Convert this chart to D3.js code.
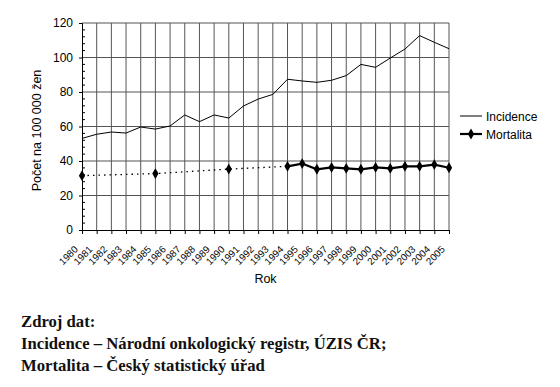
<!DOCTYPE html>
<html lang="cs">
<head>
<meta charset="UTF-8">
<title>Incidence a mortalita</title>
<script src="https://d3js.org/d3.v7.min.js"></script>
<style>
  body { margin: 0; background: #fff; }
  svg text { font-family: "Liberation Sans", Arial, sans-serif; }
</style>
</head>
<body>
<div id="chart"></div>
<script>
// data
const years = d3.range(1980, 2006);
const incidence = [53.1, 55.5, 56.8, 56.2, 59.7, 58.5, 60.3, 66.7, 62.8, 66.7, 64.9, 71.9, 75.9, 78.6,
                   87.4, 86.4, 85.6, 86.8, 89.5, 96.0, 94.3, 99.7, 104.9, 112.7, 108.8, 105.1];
// mortality: sparse early years (dotted), yearly from 1994 on
const mortEarlyYears = [1980, 1985, 1990, 1994];
const mortEarly = [31.5, 32.7, 35.3, 36.9];
const mortLateYears = d3.range(1994, 2006);
const mortLate = [36.9, 38.5, 35.2, 36.3, 35.7, 35.2, 36.3, 35.7, 36.9, 36.9, 37.9, 36.1];
const yTicks = [0, 20, 40, 60, 80, 100, 120];
const footer = ["Zdroj dat:",
                "Incidence – Národní onkologický registr, ÚZIS ČR;",
                "Mortalita – Český statistický úřad"];

const W = 560, H = 387;
const m = {left: 82, top: 23, right: 449, bottom: 230};

const svg = d3.select("#chart").append("svg")
    .attr("width", W).attr("height", H);

const x = d3.scaleLinear().domain([1980, 2005]).range([m.left, m.right]);
const y = d3.scaleLinear().domain([0, 120]).range([m.bottom, m.top]);

// grid
svg.append("g").selectAll("line").data(years.slice(1))
  .join("line")
    .attr("x1", d => x(d)).attr("x2", d => x(d))
    .attr("y1", m.top).attr("y2", m.bottom)
    .attr("stroke", "#555").attr("stroke-width", 1);
svg.append("g").selectAll("line").data(yTicks.slice(1))
  .join("line")
    .attr("x1", m.left).attr("x2", m.right)
    .attr("y1", d => y(d)).attr("y2", d => y(d))
    .attr("stroke", "#555").attr("stroke-width", 1);

// y axis with inner minor ticks
const yAxis = svg.append("g").attr("transform", `translate(${m.left},0)`)
    .call(d3.axisLeft(y).tickValues(yTicks).tickSize(3).tickPadding(6));
yAxis.select(".domain").attr("stroke", "#000");
yAxis.selectAll("text").attr("font-size", 12).attr("fill", "#000");
svg.append("g").selectAll("line").data(d3.range(0, 121, 4).filter(v => v % 20))
  .join("line")
    .attr("x1", m.left).attr("x2", m.left + 3)
    .attr("y1", d => y(d)).attr("y2", d => y(d))
    .attr("stroke", "#000");

// x axis
const xAxis = svg.append("g").attr("transform", `translate(0,${m.bottom})`)
    .call(d3.axisBottom(x).tickValues(years).tickFormat(d3.format("d")).tickSize(4).tickSizeOuter(0));
xAxis.select(".domain").attr("stroke", "#000");
xAxis.selectAll("text")
    .attr("font-size", 9.8).attr("fill", "#000")
    .attr("text-anchor", "end")
    .attr("x", 0).attr("y", 0).attr("dy", 0)
    .attr("transform", "translate(-4,20) rotate(-45)");

// axis titles
svg.append("text")
    .attr("transform", `translate(41,${(m.top + m.bottom) / 2 + 4}) rotate(-90)`)
    .attr("text-anchor", "middle").attr("font-size", 12.5)
    .text("Počet na 100 000 žen");
svg.append("text")
    .attr("x", (m.left + m.right) / 2).attr("y", 283)
    .attr("text-anchor", "middle").attr("font-size", 12.5)
    .text("Rok");

// incidence line
const line = d3.line().x(d => x(d[0])).y(d => y(d[1]));
svg.append("path")
    .datum(years.map((yr, i) => [yr, incidence[i]]))
    .attr("d", line).attr("fill", "none").attr("stroke", "#000").attr("stroke-width", 1);

// mortality
const early = mortEarlyYears.map((yr, i) => [yr, mortEarly[i]]);
const late = mortLateYears.map((yr, i) => [yr, mortLate[i]]);
svg.append("path").datum(early)
    .attr("d", line).attr("fill", "none").attr("stroke", "#000")
    .attr("stroke-width", 1.3).attr("stroke-dasharray", "1.5,4");
svg.append("path").datum(late)
    .attr("d", line).attr("fill", "none").attr("stroke", "#000").attr("stroke-width", 2.2);
const diamond = d3.symbol().type(d3.symbolDiamond).size(34);
svg.append("g").selectAll("path").data(early.slice(0, 3).concat(late))
  .join("path")
    .attr("transform", d => `translate(${x(d[0])},${y(d[1])})`)
    .attr("d", diamond).attr("fill", "#000");

// legend
const lg = svg.append("g").attr("transform", "translate(460,116)");
lg.append("line").attr("x1", 0).attr("x2", 22).attr("y1", 0).attr("y2", 0).attr("stroke", "#000");
lg.append("text").attr("x", 26).attr("y", 4.5).attr("font-size", 12).text("Incidence");
lg.append("line").attr("x1", 0).attr("x2", 22).attr("y1", 18).attr("y2", 18).attr("stroke", "#000").attr("stroke-width", 2.2);
lg.append("path").attr("transform", "translate(11,18)").attr("d", diamond).attr("fill", "#000");
lg.append("text").attr("x", 26).attr("y", 22.5).attr("font-size", 12).text("Mortalita");

// source note
svg.append("g").selectAll("text").data(footer)
  .join("text")
    .attr("x", 21).attr("y", (d, i) => 327 + i * 22)
    .style("font-family", "'Liberation Serif', 'Times New Roman', serif")
    .attr("font-weight", "bold").attr("font-size", 16.7).attr("fill", "#111")
    .text(d => d);
</script>
</body>
</html>
